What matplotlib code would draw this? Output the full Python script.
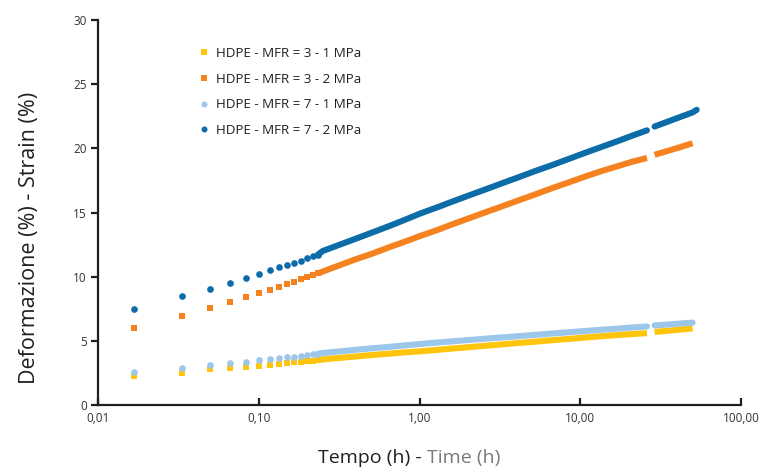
import numpy as np
import matplotlib
matplotlib.use("Agg")
import matplotlib.pyplot as plt
from matplotlib.ticker import FixedLocator, FixedFormatter

plt.rcParams['font.family'] = ['Open Sans', 'DejaVu Sans']

# time in hours: single readings every minute at the start, then the dense part
t_start = [1/60, 2/60, 3/60, 4/60, 5/60, 6/60, 7/60, 8/60, 9/60, 10/60,
           11/60, 12/60, 13/60, 14/60]
t_mid = [0.25, 0.32, 0.4, 0.51, 0.65, 0.8, 1.0, 1.3, 1.6, 2.0, 2.6, 3.3,
         4.2, 5.3, 6.7, 8.5, 11, 13.5, 17, 21, 26]
t_end = [29, 35, 42, 50]
t_end_b = [29, 35, 42, 50, 53]

# HDPE MFR 3 - 1 MPa
y31_start = [2.23, 2.52, 2.78, 2.88, 2.94, 3.04, 3.12, 3.2, 3.25, 3.33, 3.38, 3.40, 3.45, 3.5]
y31_mid = [3.55, 3.67, 3.78, 3.9, 4.0, 4.1, 4.18, 4.3, 4.4, 4.5, 4.62, 4.73,
           4.84, 4.94, 5.05, 5.15, 5.27, 5.36, 5.45, 5.53, 5.6]
y31_end = [5.7, 5.78, 5.88, 5.97]

# HDPE MFR 3 - 2 MPa
y32_start = [6.03, 6.96, 7.56, 8.03, 8.38, 8.7, 8.96, 9.17, 9.4, 9.59, 9.8, 9.95, 10.1, 10.25]
y32_mid = [10.4, 10.9, 11.35, 11.8, 12.3, 12.7, 13.15, 13.65, 14.08, 14.52, 15.04, 15.5,
           15.98, 16.43, 16.9, 17.35, 17.85, 18.22, 18.6, 18.95, 19.25]
y32_end = [19.5, 19.8, 20.1, 20.4]

# HDPE MFR 7 - 1 MPa
y71_start = [2.55, 2.91, 3.12, 3.27, 3.38, 3.51, 3.58, 3.64, 3.71, 3.76, 3.84, 3.9, 3.95, 4.0]
y71_mid = [4.05, 4.18, 4.3, 4.42, 4.53, 4.64, 4.75, 4.87, 4.96, 5.06, 5.17, 5.27,
           5.37, 5.47, 5.57, 5.67, 5.78, 5.86, 5.95, 6.04, 6.12]
y71_end = [6.2, 6.27, 6.35, 6.42]

# HDPE MFR 7 - 2 MPa
y72_start = [7.48, 8.50, 9.06, 9.53, 9.88, 10.24, 10.5, 10.72, 10.9, 11.1, 11.25, 11.43, 11.58, 11.72]
y72_mid = [12.0, 12.5, 12.95, 13.45, 13.95, 14.4, 14.9, 15.42, 15.85, 16.3, 16.82, 17.3,
           17.78, 18.25, 18.7, 19.18, 19.7, 20.1, 20.55, 20.98, 21.4]
y72_end = [21.7, 22.08, 22.45, 22.8, 23.0]

labels = ['HDPE - MFR = 3 - 1 MPa', 'HDPE - MFR = 3 - 2 MPa',
          'HDPE - MFR = 7 - 1 MPa', 'HDPE - MFR = 7 - 2 MPa']
colors = ['#ffc40c', '#f6821f', '#9cc6ea', '#0b6ca8']

series = [
    (y31_start, y31_mid, y31_end, t_end, 's'),
    (y32_start, y32_mid, y32_end, t_end, 's'),
    (y71_start, y71_mid, y71_end, t_end, 'o'),
    (y72_start, y72_mid, y72_end, t_end_b, 'o'),
]

W, H = 762, 472
fig = plt.figure(figsize=(W / 100, H / 100), dpi=100)
ax = fig.add_axes([98 / W, 1 - 405 / H, 643 / W, 385 / H])

for (ys, ym, ye, te, mk), c, lab in zip(series, colors, labels):
    ax.plot(t_start, ys, linestyle='none', marker=mk, ms=4.8, mew=0, color=c, label=lab)
    cap = 'round' if mk == 'o' else 'butt'
    ax.plot([t_start[-1]] + t_mid, [ys[-1]] + ym, color=c, lw=4.4, solid_capstyle=cap)
    ax.plot(te, ye, color=c, lw=4.4, solid_capstyle=cap)

ax.set_xscale('log')
ax.set_xlim(0.01, 100)
ax.set_ylim(0, 30)
ax.xaxis.set_major_locator(FixedLocator([0.01, 0.1, 1, 10, 100]))
ax.xaxis.set_major_formatter(FixedFormatter(['0,01', '0,10', '1,00', '10,00', '100,00']))
ax.xaxis.set_minor_locator(FixedLocator([]))
ax.set_yticks([0, 5, 10, 15, 20, 25, 30])

for s in ['top', 'right']:
    ax.spines[s].set_visible(False)
for s in ['left', 'bottom']:
    ax.spines[s].set_color('#231f20')
    ax.spines[s].set_linewidth(1.6)
ax.tick_params(axis='y', direction='out', length=5, width=1.6, color='#231f20',
               labelsize=8.5, labelcolor='#333333', pad=3)
ax.tick_params(axis='x', direction='in', length=5, width=1.6, color='#231f20',
               labelsize=8.5, labelcolor='#333333', pad=5)

fig.text(30 / W, 1 - 238 / H, 'Deformazione (%) - Strain (%)', fontsize=15.5,
         color='#231f20', rotation=90, ha='center', va='center')

# x label in two colours
t1 = fig.text(318 / W, 1 - 458 / H, 'Tempo (h) - ', fontsize=14, color='#231f20',
              ha='left', va='center')
fig.canvas.draw()
bb = t1.get_window_extent()
fig.text(bb.x1 / W, 1 - 458 / H, 'Time (h)', fontsize=14, color='#7a7a7a',
         ha='left', va='center')

leg = ax.legend(loc='upper left', bbox_to_anchor=(0.14, 0.961), frameon=False,
                fontsize=9.6, handlelength=0.6, handletextpad=0.6, labelspacing=0.95,
                markerscale=0.9)
for txt in leg.get_texts():
    txt.set_color('#231f20')

fig.savefig('out.png', dpi=100)
